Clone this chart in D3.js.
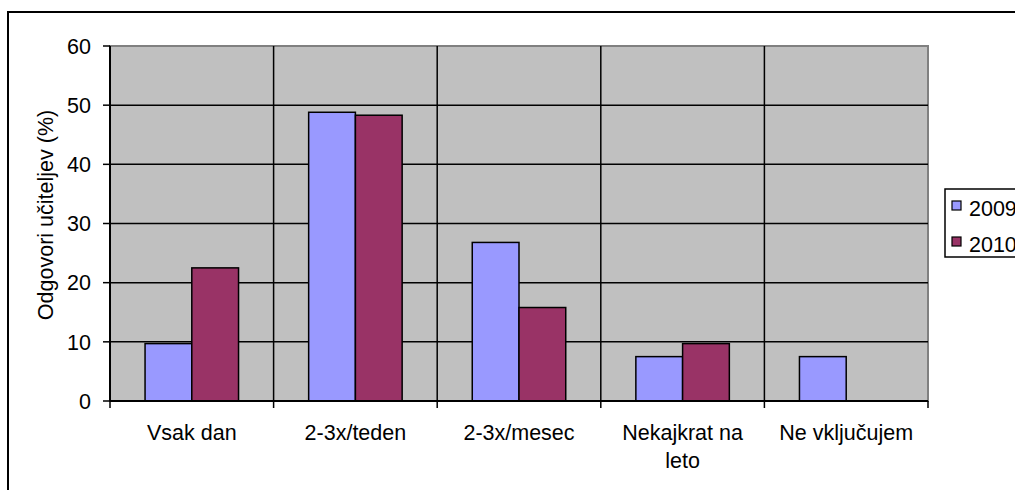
<!DOCTYPE html>
<html>
<head>
<meta charset="utf-8">
<script src="https://cdn.jsdelivr.net/npm/d3@7"></script>
<style>
  body { margin: 0; background: #fff; }
  svg text { font-family: "Liberation Sans", Arial, sans-serif; fill: #000; }
</style>
</head>
<body>
<div id="chart"></div>
<script>
// data
const categories = ["Vsak dan", "2-3x/teden", "2-3x/mesec", "Nekajkrat na leto", "Ne vključujem"];
const seriesNames = ["2009", "2010"];
const values2009 = [9.7, 48.8, 26.8, 7.5, 7.5];
const values2010 = [22.5, 48.3, 15.8, 9.7, 0];
const yTicks = [0, 10, 20, 30, 40, 50, 60];

const seriesColors = { "2009": "#9999FF", "2010": "#993366" };

class BarVis {
  constructor(parentElement) {
    this.parentElement = parentElement;
    this.initVis();
  }

  initVis() {
    let vis = this;

    vis.width = 1015;
    vis.height = 490;
    vis.plot = { left: 110, right: 928, top: 46, bottom: 401 };
    vis.fontSize = "21.5px";

    vis.svg = d3.select("#" + vis.parentElement)
      .append("svg")
      .attr("width", vis.width)
      .attr("height", vis.height);

    // outer chart frame (right and bottom fall outside the picture)
    vis.svg.append("rect")
      .attr("x", 8).attr("y", 12)
      .attr("width", 1100).attr("height", 600)
      .attr("fill", "#fff")
      .attr("stroke", "#000")
      .attr("stroke-width", 2);

    vis.x = d3.scaleBand()
      .domain(categories)
      .range([vis.plot.left, vis.plot.right])
      .paddingInner(0).paddingOuter(0);

    vis.x1 = d3.scaleBand()
      .domain(seriesNames)
      .range([0, vis.x.bandwidth()])
      .paddingInner(0).paddingOuter(0.75);

    vis.y = d3.scaleLinear().domain([0, 60]).range([vis.plot.bottom, vis.plot.top]);

    vis.wrangleData();
  }

  wrangleData() {
    let vis = this;
    vis.displayData = [];
    categories.forEach((c, i) => {
      vis.displayData.push({ cat: c, series: "2009", value: values2009[i] });
      vis.displayData.push({ cat: c, series: "2010", value: values2010[i] });
    });
    vis.updateVis();
  }

  updateVis() {
    let vis = this;
    let p = vis.plot;

    // plot area
    vis.svg.append("rect")
      .attr("x", p.left).attr("y", p.top)
      .attr("width", p.right - p.left).attr("height", p.bottom - p.top)
      .attr("fill", "#C0C0C0")
      .attr("stroke", "#808080")
      .attr("stroke-width", 2);

    // horizontal gridlines
    vis.svg.append("g").selectAll("line")
      .data(yTicks.filter(t => t > 0 && t < 60))
      .enter().append("line")
      .attr("x1", p.left).attr("x2", p.right)
      .attr("y1", d => vis.y(d)).attr("y2", d => vis.y(d))
      .attr("stroke", "#000").attr("stroke-width", 1.5);

    // vertical gridlines between categories
    vis.svg.append("g").selectAll("line")
      .data(categories.slice(1))
      .enter().append("line")
      .attr("x1", d => vis.x(d)).attr("x2", d => vis.x(d))
      .attr("y1", p.top).attr("y2", p.bottom)
      .attr("stroke", "#000").attr("stroke-width", 1.5);

    // bars
    vis.svg.append("g").selectAll("rect")
      .data(vis.displayData.filter(d => d.value > 0))
      .enter().append("rect")
      .attr("x", d => vis.x(d.cat) + vis.x1(d.series))
      .attr("y", d => vis.y(d.value))
      .attr("width", vis.x1.bandwidth())
      .attr("height", d => vis.y(0) - vis.y(d.value))
      .attr("fill", d => seriesColors[d.series])
      .attr("stroke", "#000")
      .attr("stroke-width", 1.5);

    // y axis
    let yAxis = vis.svg.append("g");
    yAxis.append("line")
      .attr("x1", p.left).attr("x2", p.left)
      .attr("y1", p.top).attr("y2", p.bottom)
      .attr("stroke", "#000").attr("stroke-width", 2);
    yAxis.selectAll(".tick").data(yTicks).enter().append("line")
      .attr("x1", p.left - 7).attr("x2", p.left)
      .attr("y1", d => vis.y(d)).attr("y2", d => vis.y(d))
      .attr("stroke", "#000").attr("stroke-width", 1.5);
    yAxis.selectAll("text").data(yTicks).enter().append("text")
      .attr("x", 91)
      .attr("y", d => vis.y(d))
      .attr("dy", "0.36em")
      .attr("text-anchor", "end")
      .style("font-size", vis.fontSize)
      .text(d => d);

    // x axis
    let xAxis = vis.svg.append("g");
    xAxis.append("line")
      .attr("x1", p.left).attr("x2", p.right)
      .attr("y1", p.bottom).attr("y2", p.bottom)
      .attr("stroke", "#000").attr("stroke-width", 2);
    let bounds = categories.map(c => vis.x(c)).concat([p.right]);
    xAxis.selectAll(".tick").data(bounds).enter().append("line")
      .attr("x1", d => d).attr("x2", d => d)
      .attr("y1", p.bottom).attr("y2", p.bottom + 7)
      .attr("stroke", "#000").attr("stroke-width", 1.5);

    // category labels, wrapped like the original
    const wrapped = { "Nekajkrat na leto": ["Nekajkrat na", "leto"] };
    categories.forEach(c => {
      let lines = wrapped[c] || [c];
      let t = xAxis.append("text")
        .attr("text-anchor", "middle")
        .style("font-size", vis.fontSize);
      lines.forEach((ln, i) => {
        t.append("tspan")
          .attr("x", vis.x(c) + vis.x.bandwidth() / 2)
          .attr("y", 440 + i * 28)
          .text(ln);
      });
    });

    // y axis title
    vis.svg.append("text")
      .attr("transform", "translate(53,215) rotate(-90)")
      .attr("text-anchor", "middle")
      .style("font-size", vis.fontSize)
      .text("Odgovori učiteljev (%)");

    // legend
    let legend = vis.svg.append("g");
    legend.append("rect")
      .attr("x", 945).attr("y", 189)
      .attr("width", 200).attr("height", 68)
      .attr("fill", "#fff")
      .attr("stroke", "#000").attr("stroke-width", 1.5);
    seriesNames.forEach((s, i) => {
      legend.append("rect")
        .attr("x", 952).attr("y", 201 + i * 36)
        .attr("width", 9).attr("height", 9)
        .attr("fill", seriesColors[s])
        .attr("stroke", "#000").attr("stroke-width", 1.2);
      legend.append("text")
        .attr("x", 969).attr("y", 216 + i * 36)
        .style("font-size", vis.fontSize)
        .text(s);
    });
  }
}

new BarVis("chart");
</script>
</body>
</html>
